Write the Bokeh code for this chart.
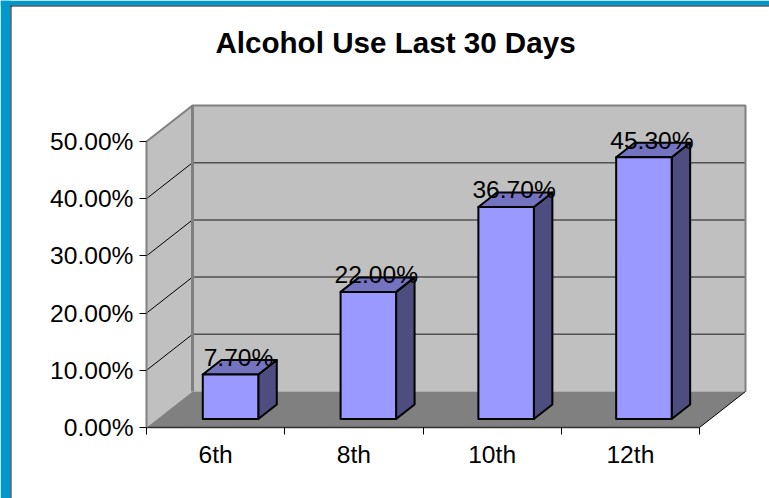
from bokeh.plotting import figure
from bokeh.embed import file_html
from bokeh.resources import INLINE
from bokeh.models import Range1d, FixedTicker, BoxAnnotation
from bokeh.core.properties import value

categories = ["6th", "8th", "10th", "12th"]
values = [7.7, 22.0, 36.7, 45.3]
y_ticks = [0, 10, 20, 30, 40, 50]
y_labels = ["0.00%", "10.00%", "20.00%", "30.00%", "40.00%", "50.00%"]
title_text = "Alcohol Use Last 30 Days"

FONT = "Liberation Sans"
W, H = 769, 498
ORG_X, ORG_Y = 146, 427  # canvas position of the data origin
PX_X = 138.25      # pixels per category
PX_Y = 5.72        # pixels per percentage point
DX = 46 / PX_X     # wall depth, in data units
DY = 36 / PX_Y
BDX = 18.5 / PX_X  # bar depth
BDY = 14.5 / PX_Y
BAR_W = 55.5 / PX_X
BAR_OFF = 0.1095   # bar centre shift from category centre
BAR_STEP = 0.9967  # bar spacing relative to category spacing
BAR_BASE = 8.5 / PX_Y
BAR_SCALE = 1.01
N = len(categories)
YMAX = y_ticks[-1]

p = figure(width=W, height=H, output_backend="svg", toolbar_location=None,
           x_range=Range1d(-ORG_X / PX_X, (W - ORG_X) / PX_X),
           y_range=Range1d(-(H - ORG_Y) / PX_Y, ORG_Y / PX_Y),
           min_border=0,
           background_fill_color="white", border_fill_color="white",
           outline_line_color=None)
p.grid.visible = False

# axes
ax = p.yaxis[0]
ax.fixed_location = 0
ax.ticker = FixedTicker(ticks=y_ticks)
ax.major_label_overrides = {float(t): l for t, l in zip(y_ticks, y_labels)}
ax.bounds = (0, YMAX)
ax.axis_line_color = "#808080"
ax.axis_line_width = 2
ax.major_tick_line_color = "black"
ax.major_tick_in = 0
ax.major_tick_out = 7
ax.minor_tick_line_color = None
ax.major_label_standoff = 6
ax.major_label_text_font = FONT
ax.major_label_text_font_size = "24.6px"
ax.major_label_text_color = "black"

xx = p.xaxis[0]
xx.fixed_location = 0
centers = [i + 0.5 for i in range(N)]
xx.ticker = FixedTicker(ticks=centers, minor_ticks=list(range(N + 1)))
xx.major_label_overrides = {c: l for c, l in zip(centers, categories)}
xx.bounds = (0, N)
xx.axis_line_color = "#303030"
xx.axis_line_width = 1.5
xx.major_tick_line_color = None
xx.major_tick_in = 0
xx.major_tick_out = 0
xx.minor_tick_line_color = "black"
xx.minor_tick_in = 0
xx.minor_tick_out = 7
xx.major_label_standoff = 6
xx.major_label_text_font = FONT
xx.major_label_text_font_size = "24.6px"
xx.major_label_text_color = "black"

# title
p.text([(395 - ORG_X) / PX_X], [(ORG_Y - 42) / PX_Y], text=[title_text], text_align="center",
       text_baseline="middle", text_font=value(FONT), text_font_size="29.6px", text_font_style="bold",
       text_color="black")

# walls and floor
p.patch([DX, N + DX, N + DX, DX], [DY, DY, YMAX + DY, YMAX + DY], fill_color="#C0C0C0", line_color=None)
p.patch([0, DX, DX, 0], [0, DY, YMAX + DY, YMAX], fill_color="#C0C0C0", line_color=None)
p.patch([0, N, N + DX, DX], [0, 0, DY, DY], fill_color="#808080", line_color=None)

# gridlines
inner = y_ticks[1:-1]
p.segment([DX] * len(inner), [t + DY for t in inner], [N + DX] * len(inner), [t + DY for t in inner],
          line_color="#505050", line_width=1.5)
p.segment([0] * len(inner), inner, [DX] * len(inner), [t + DY for t in inner],
          line_color="black", line_width=1)
# wall edges
p.line([0, DX, N + DX, N + DX], [YMAX, YMAX + DY, YMAX + DY, DY], line_color="#808080", line_width=2)
p.segment([DX], [DY], [DX], [YMAX + DY], line_color="#808080", line_width=3)
p.segment([N], [0], [N + DX], [DY], line_color="black", line_width=1)

# bars
for i, v in enumerate(values):
    x0 = centers[i] * BAR_STEP + BAR_OFF - BAR_W / 2
    x1 = x0 + BAR_W
    y0 = BAR_BASE
    y1 = BAR_BASE + v * BAR_SCALE
    p.patch([x1, x1 + BDX, x1 + BDX, x1], [y0, y0 + BDY, y1 + BDY, y1],
            fill_color="#4D4D80", line_color="black", line_width=2, line_join="round")
    p.patch([x0, x1, x1 + BDX, x0 + BDX], [y1, y1, y1 + BDY, y1 + BDY],
            fill_color="#7373BF", line_color="black", line_width=2, line_join="round")
    p.patch([x0, x1, x1, x0], [y0, y0, y1, y1],
            fill_color="#9999FF", line_color="black", line_width=2, line_join="round")
    p.text([x0 + BAR_W / 2], [y1], text=[f"{v:.2f}%"], text_align="center", text_baseline="middle",
           x_offset=8, y_offset=-17, text_font=value(FONT), text_font_size="24.6px", text_color="black")

# slide background strips (screen y counts from the bottom of the canvas here)
def strip(l, r, t, b, c):
    p.add_layout(BoxAnnotation(left=l, right=r, top=H - t, bottom=H - b, left_units="screen", right_units="screen",
                               top_units="screen", bottom_units="screen", fill_color=c, fill_alpha=1,
                               line_color=None, level="overlay"))

strip(0, 10, 0, H, "#0099CC")
strip(0, W, 0, 5, "#0099CC")
strip(10, 11, 5, H, "#101010")
strip(10, W, 5, 6, "#101010")

open("out.html", "w").write(file_html(p, INLINE))
